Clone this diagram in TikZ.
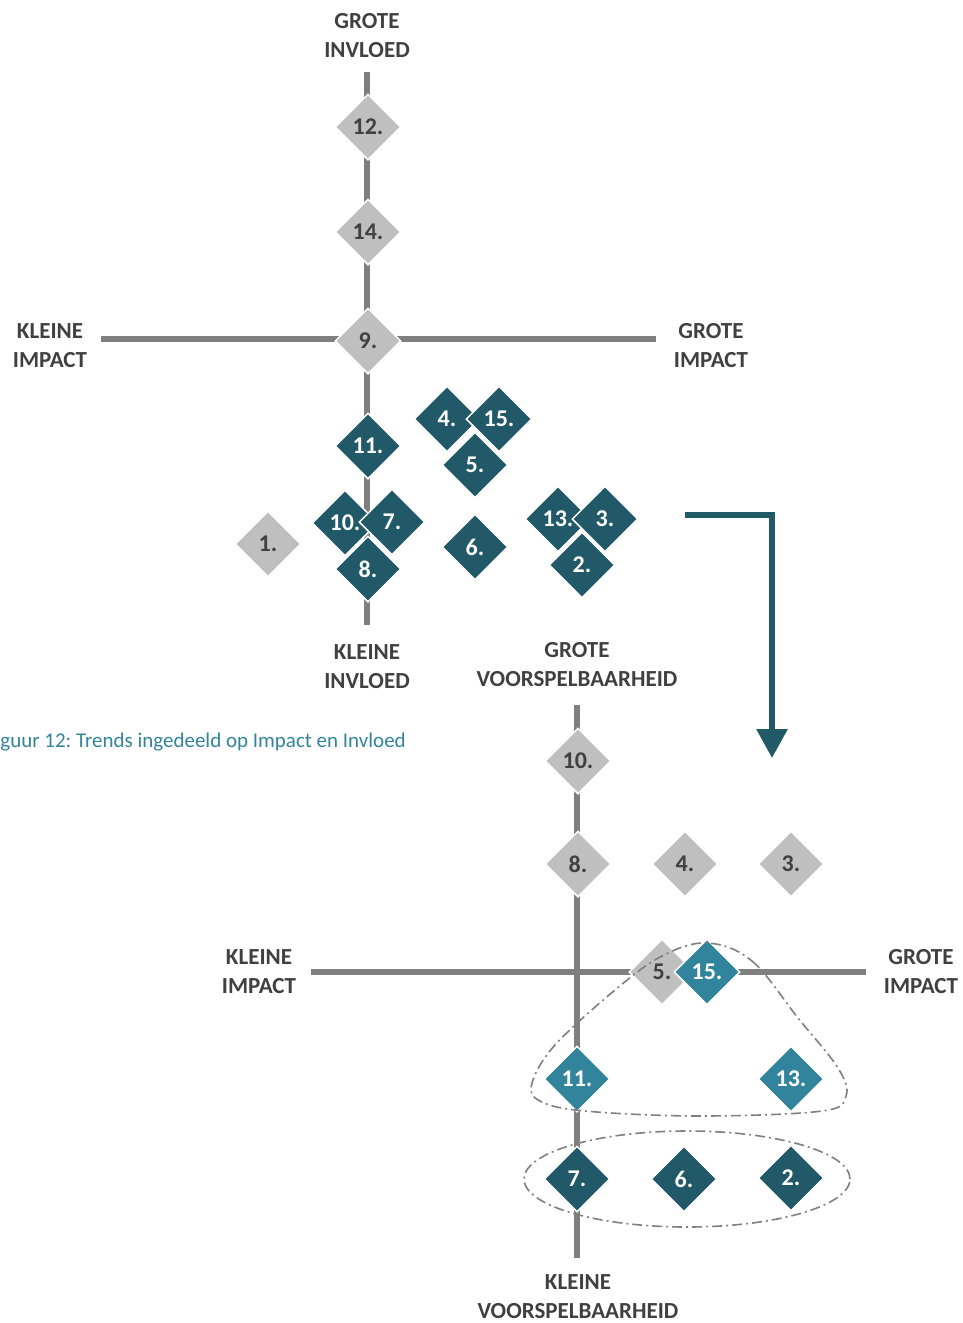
\documentclass[tikz,border=0pt]{standalone}
\usepackage{fontspec}
\setmainfont{Carlito}
\frenchspacing
\usetikzlibrary{shapes.geometric,arrows.meta}
\definecolor{axisgray}{HTML}{7F7F7F}
\definecolor{labelgray}{HTML}{404040}
\definecolor{lightgraybox}{HTML}{BFBFBF}
\definecolor{darkteal}{HTML}{215968}
\definecolor{midteal}{HTML}{31849B}
\tikzset{
  axisline/.style={draw=axisgray, line width=6pt},
  axislabel/.style={align=center, text=labelgray, inner sep=0pt,
    font=\bfseries\fontsize{23}{29}\selectfont},
  trend/.style={diamond, aspect=1, inner sep=0pt, minimum width=66pt,
    minimum height=66pt, draw=white, line width=1.5pt,
    font=\bfseries\fontsize{24}{26}\selectfont},
  graytrend/.style={trend, fill=lightgraybox, text=labelgray},
  darktrend/.style={trend, fill=darkteal, text=white},
  midtrend/.style={trend, fill=midteal, text=white},
  grouping/.style={draw=axisgray, line width=1.6pt,
    dash pattern=on 10pt off 4pt on 2pt off 4pt},
}
\begin{document}
\begin{tikzpicture}[x=1pt, y=-1pt]
\useasboundingbox (0,0) rectangle (962,1323);

% ---------- impact / influence chart ----------
\coordinate (ta) at (367,72);
\coordinate (tb) at (367,625);
\coordinate (tl) at (101,339);
\coordinate (tr) at (656,339);
\draw[axisline] (ta) -- (tb);
\draw[axisline] (tl) -- (tr);

\node[axislabel] (topN) at (367,36) {GROTE\\INVLOED};
\node[axislabel] (topS) at (367,667) {KLEINE\\INVLOED};
\node[axislabel] (topW) at (50,346) {KLEINE\\IMPACT};
\node[axislabel] (topE) at (711,346) {GROTE\\IMPACT};

\node[graytrend] (a12) at (368,127) {12.};
\node[graytrend] (a14) at (368,232) {14.};
\node[graytrend] (a9)  at (368,341) {9.};
\node[graytrend] (a1)  at (268,544) {1.};
\node[darktrend] (a11) at (368,446) {11.};
\node[darktrend] (a4)  at (447,419) {4.};
\node[darktrend] (a15) at (499,419) {15.};
\node[darktrend] (a5)  at (475,465) {5.};
\node[darktrend] (a10) at (345,523) {10.};
\node[darktrend] (a7)  at (392,522) {7.};
\node[darktrend] (a8)  at (368,569) {8.};
\node[darktrend] (a6)  at (475,547) {6.};
\node[darktrend] (a13) at (558,519) {13.};
\node[darktrend] (a3)  at (605,519) {3.};
\node[darktrend] (a2)  at (582,565) {2.};

% caption
\node[anchor=east, inner sep=0pt, text=midteal,
      font=\fontsize{21}{24}\selectfont] (cap) at (406,742)
      {guur 12: Trends ingedeeld op Impact en Invloed};

% transition arrow
\coordinate (arS) at (685,515);
\coordinate (arC) at (772,515);
\coordinate (arE) at (772,758);
\draw[draw=darkteal, line width=6pt, line join=miter,
      -{Triangle[width=30pt,length=29pt]}] (arS) -- (arC) -- (arE);

% ---------- impact / predictability chart ----------
\coordinate (ba) at (577,705);
\coordinate (bb) at (577,1258);
\coordinate (bl) at (311,972);
\coordinate (br) at (866,972);
\draw[axisline] (ba) -- (bb);
\draw[axisline] (bl) -- (br);

\node[axislabel] (botN) at (577,665) {GROTE\\VOORSPELBAARHEID};
\node[axislabel] (botS) at (578,1297) {KLEINE\\VOORSPELBAARHEID};
\node[axislabel] (botW) at (259,972) {KLEINE\\IMPACT};
\node[axislabel] (botE) at (921,972) {GROTE\\IMPACT};

\node[graytrend] (b10) at (578,761) {10.};
\node[graytrend] (b8)  at (578,864) {8.};
\node[graytrend] (b4)  at (685,864) {4.};
\node[graytrend] (b3)  at (791,864) {3.};
\node[graytrend] (b5)  at (662,972) {5.};
\node[midtrend]  (b15) at (707,972) {15.};
\node[midtrend]  (b11) at (577,1079) {11.};
\node[midtrend]  (b13) at (791,1079) {13.};
\node[darktrend] (b7)  at (577,1179) {7.};
\node[darktrend] (b6)  at (684,1179) {6.};
\node[darktrend] (b2)  at (791,1178) {2.};

% groupings
\draw[grouping] plot[smooth cycle, tension=0.6] coordinates {
  (707,943) (752,961) (798,1018) (838,1068) (846,1096) (822,1111)
  (700,1116) (585,1111) (540,1101) (532,1083) (555,1045) (615,990) (662,956)};
\draw[grouping] (687,1179) ellipse [x radius=163pt, y radius=48pt];
\end{tikzpicture}
\end{document}
